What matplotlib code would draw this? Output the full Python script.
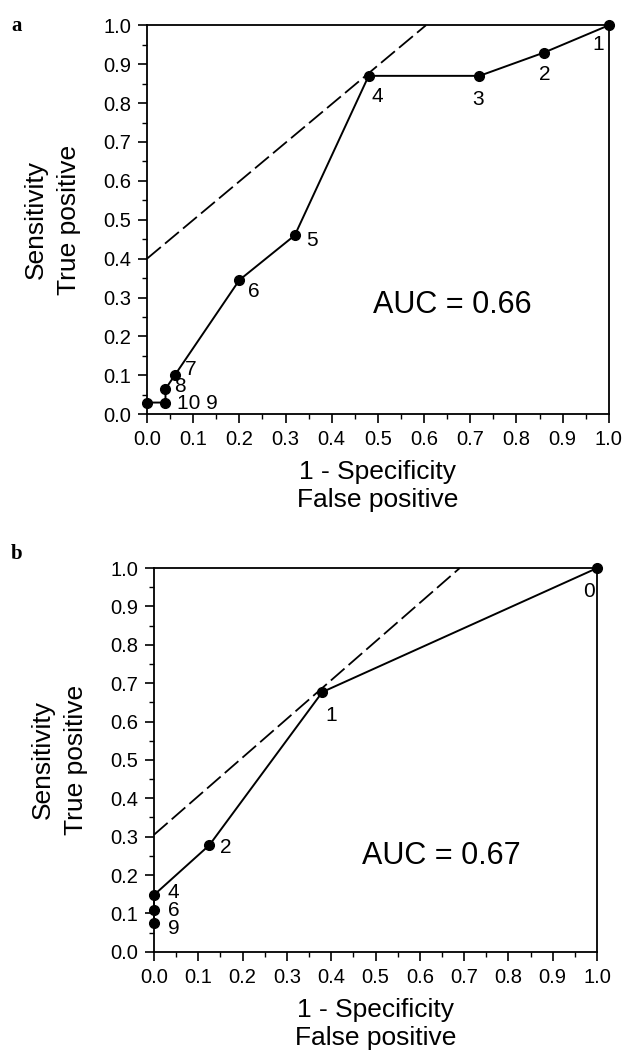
import matplotlib.pyplot as plt
from matplotlib.ticker import MultipleLocator

# panel a data
a_fpr = [0.0, 0.04, 0.04, 0.06, 0.20, 0.32, 0.48, 0.72, 0.86, 1.0]
a_tpr = [0.03, 0.03, 0.065, 0.10, 0.345, 0.46, 0.87, 0.87, 0.93, 1.0]
a_labels = ['', '10 9', '8', '7', '6', '5', '4', '3', '2', '1']
a_tangent = [(0.0, 0.40), (0.604, 1.0)]
a_auc = 0.66

# panel b data
b_fpr = [0.0, 0.0, 0.0, 0.125, 0.38, 1.0]
b_tpr = [0.076, 0.108, 0.148, 0.278, 0.677, 1.0]
b_labels = ['9', '6', '4', '2', '1', '0']
b_tangent = [(0.0, 0.305), (0.69, 1.0)]
b_auc = 0.67

plt.rcParams['font.family'] = ['Liberation Sans', 'DejaVu Sans']

fig = plt.figure(figsize=(6.24, 10.54), dpi=100)
ax_a = fig.add_axes([0.2356, 0.607, 0.740, 0.369])
ax_b = fig.add_axes([0.2468, 0.097, 0.710, 0.364])


def draw_roc(ax, fpr, tpr, labels, tangent, auc, offsets, auc_pos):
    ax.plot(fpr, tpr, color='black', lw=1.4, marker='o', ms=7, clip_on=False, zorder=3)
    (x0, y0), (x1, y1) = tangent
    ax.plot([x0, x1], [y0, y1], color='black', lw=1.3, dashes=(10, 3), clip_on=False)
    for x, y, lab, (dx, dy) in zip(fpr, tpr, labels, offsets):
        if lab:
            ax.annotate(lab, (x, y), xytext=(dx, dy), textcoords='offset points',
                        fontsize=15, ha='left', va='center')
    ax.text(auc_pos[0], auc_pos[1], 'AUC = %.2f' % auc, fontsize=22, ha='left', va='center')
    ax.set_xlim(0, 1)
    ax.set_ylim(0, 1)
    for s in ax.spines.values():
        s.set_linewidth(1.3)
    ax.xaxis.set_major_locator(MultipleLocator(0.1))
    ax.yaxis.set_major_locator(MultipleLocator(0.1))
    ax.xaxis.set_minor_locator(MultipleLocator(0.05))
    ax.yaxis.set_minor_locator(MultipleLocator(0.05))
    ax.xaxis.set_major_formatter(lambda v, p: '%.1f' % v)
    ax.yaxis.set_major_formatter(lambda v, p: '%.1f' % v)
    ax.tick_params(which='major', direction='out', length=6.5, width=1.2, labelsize=14.5, pad=5)
    ax.tick_params(which='minor', direction='out', length=3.5, width=1.0)
    ax.tick_params(top=False, right=False)
    ax.set_xlabel('1 - Specificity\nFalse positive', fontsize=19, linespacing=1.2, labelpad=8)
    ax.set_ylabel('Sensitivity\nTrue positive', fontsize=19, linespacing=1.45, labelpad=16)


draw_roc(ax_a, a_fpr, a_tpr, a_labels, a_tangent, a_auc,
         [(0, 0), (8, -1), (6, 2), (7, 4), (6, -8), (8, -4), (2, -15), (-5, -17), (-4, -16), (-12, -14)],
         (0.49, 0.28))
draw_roc(ax_b, b_fpr, b_tpr, b_labels, b_tangent, b_auc,
         [(10, -4), (10, 0), (10, 2), (8, -2), (2, -17), (-10, -17)],
         (0.47, 0.25))

fig.text(0.018, 0.985, 'a', fontsize=15, fontweight='bold', family='Liberation Serif', va='top')
fig.text(0.018, 0.484, 'b', fontsize=15, fontweight='bold', family='Liberation Serif', va='top')

fig.savefig('out.png', dpi=100)
